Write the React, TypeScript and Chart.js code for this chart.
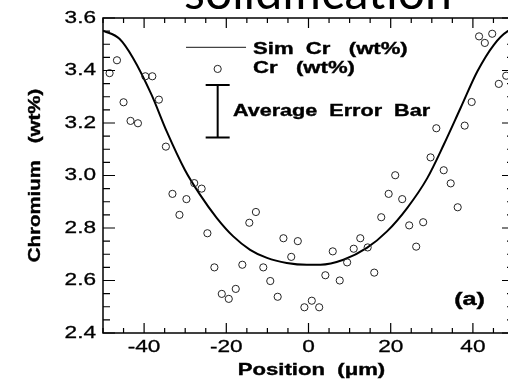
import React, { useEffect, useRef } from 'react';
import { Chart, registerables } from 'chart.js';

Chart.register(...registerables);

// ---------------- data ----------------
const crX = [-48.4, -46.6, -45.0, -43.3, -41.5, -39.7, -38.0, -36.4, -34.7, -33.1, -31.4, -29.7, -27.8, -26.0, -24.6, -22.9, -21.1, -19.4, -17.7, -16.1, -14.4, -12.8, -11.0, -9.3, -7.5, -6.1, -4.2, -2.6, -1.0, 0.8, 2.6, 4.1, 5.9, 7.6, 9.4, 11.0, 12.6, 14.4, 16.0, 17.7, 19.5, 21.1, 22.8, 24.5, 26.2, 27.9, 29.7, 31.1, 32.9, 34.6, 36.3, 38.0, 39.7, 41.5, 42.9, 44.7, 46.3, 48.1];
const crY = [3.390, 3.439, 3.279, 3.208, 3.199, 3.378, 3.378, 3.289, 3.110, 2.930, 2.850, 2.910, 2.971, 2.950, 2.780, 2.650, 2.549, 2.530, 2.568, 2.660, 2.820, 2.861, 2.650, 2.598, 2.538, 2.761, 2.690, 2.750, 2.498, 2.523, 2.498, 2.620, 2.711, 2.600, 2.669, 2.721, 2.761, 2.726, 2.630, 2.841, 2.930, 3.001, 2.910, 2.810, 2.729, 2.822, 3.069, 3.180, 3.020, 2.970, 2.879, 3.190, 3.280, 3.530, 3.505, 3.540, 3.349, 3.380];

const simX = [-50, -46, -42.7, -38.2, -34.5, -30.1, -26.4, -22.3, -18.3, -14.2, -10.1, -5.3, -0.4, 2.9, 8.5, 14.2, 19.1, 24.0, 28.9, 32.9, 37.0, 41.1, 45.1, 48.4, 50];
const simY = [3.552, 3.521, 3.448, 3.308, 3.168, 3.022, 2.927, 2.838, 2.768, 2.717, 2.686, 2.667, 2.660, 2.660, 2.679, 2.724, 2.787, 2.876, 2.990, 3.117, 3.257, 3.397, 3.498, 3.549, 3.556];

const xTickValues = [-40, -20, 0, 20, 40];
const xTickLabels = ['-40', '-20', '0', '20', '40'];
const yTickValues = [2.4, 2.6, 2.8, 3.0, 3.2, 3.4, 3.6];
const yTickLabels = ['2.4', '2.6', '2.8', '3.0', '3.2', '3.4', '3.6'];

const titleText = 'solidification';
const xTitle = 'Position  (\u03bcm)';
const yTitle = 'Chromium   (wt%)';
const legendSimLabel = 'Sim  Cr   (wt%)';
const legendCrLabel = 'Cr   (wt%)';
const errorBarLabel = 'Average  Error  Bar';
const panelLabel = '(a)';

// error bar (data units)
const errorBarX = -22.1;
const errorBarLow = 3.145;
const errorBarHigh = 3.345;

// ---------------- layout ----------------
const W = 540;
const H = 417;
const OFFSET_Y = 30;
const X_MIN = -50, X_MAX = 50, Y_MIN = 2.4, Y_MAX = 3.6;

const SANS = '"Liberation Sans", Arial, Helvetica, sans-serif';

function stretchedText(
  ctx: CanvasRenderingContext2D,
  text: string,
  x: number,
  y: number,
  font: string,
  sx: number,
  align: CanvasTextAlign,
  rotate = 0,
  thicken = 0
) {
  ctx.save();
  ctx.translate(x, y);
  if (rotate) ctx.rotate(rotate);
  ctx.scale(sx, 1);
  ctx.font = font;
  ctx.fillStyle = '#000';
  ctx.textAlign = align;
  ctx.textBaseline = 'middle';
  ctx.fillText(text, 0, 0);
  if (thicken > 0) {
    ctx.strokeStyle = '#000';
    ctx.lineWidth = thicken;
    ctx.strokeText(text, 0, 0);
  }
  ctx.restore();
}

const decor = {
  id: 'decor',
  afterDraw(chart: any) {
    const ctx: CanvasRenderingContext2D = chart.ctx;
    const xs = chart.scales.x;
    const ys = chart.scales.y;
    const a = chart.chartArea;
    const px = (v: number) => xs.getPixelForValue(v);
    const py = (v: number) => ys.getPixelForValue(v);

    ctx.save();
    // frame
    ctx.strokeStyle = '#000';
    ctx.lineWidth = 1.5;
    ctx.strokeRect(a.left, a.top, a.right - a.left, a.bottom - a.top);

    // x ticks (inward, top and bottom)
    ctx.lineWidth = 1.2;
    for (let v = X_MIN; v <= X_MAX + 1e-9; v += 5) {
      const major = Math.abs(v % 20) < 1e-6;
      const len = major ? 10 : 5;
      const x = px(v);
      ctx.beginPath();
      ctx.moveTo(x, a.bottom);
      ctx.lineTo(x, a.bottom - len);
      ctx.moveTo(x, a.top);
      ctx.lineTo(x, a.top + len);
      ctx.stroke();
    }
    // y ticks (inward, left and right)
    for (let i = 0; i <= Math.round((Y_MAX - Y_MIN) / 0.05); i++) {
      const v = Y_MIN + i * 0.05;
      const major = i % 4 === 0;
      const len = major ? 12 : 7;
      const y = py(v);
      ctx.beginPath();
      ctx.moveTo(a.left, y);
      ctx.lineTo(a.left + len, y);
      ctx.moveTo(a.right, y);
      ctx.lineTo(a.right - len, y);
      ctx.stroke();
    }

    // tick labels
    const tickFont = `17px ${SANS}`;
    xTickValues.forEach((v, i) => {
      stretchedText(ctx, xTickLabels[i], px(v), a.bottom + 14, tickFont, 1.33, 'center', 0, 0.3);
    });
    yTickValues.forEach((v, i) => {
      stretchedText(ctx, yTickLabels[i], a.left - 7, py(v), tickFont, 1.33, 'right', 0, 0.3);
    });

    // axis titles
    const boldFont = `bold 17px ${SANS}`;
    stretchedText(ctx, xTitle, (a.left + a.right) / 2 + 3, a.bottom + 37, boldFont, 1.3, 'center', 0, 0.4);
    stretchedText(ctx, yTitle, 35, (a.top + a.bottom) / 2, boldFont, 1.2, 'center', -Math.PI / 2, 0.4);

    // legend: sim line
    ctx.strokeStyle = '#444';
    ctx.lineWidth = 1.4;
    ctx.beginPath();
    ctx.moveTo(px(-29.8), py(3.488));
    ctx.lineTo(px(-15.2), py(3.488));
    ctx.stroke();
    // legend: marker
    ctx.strokeStyle = '#222';
    ctx.lineWidth = 1;
    ctx.beginPath();
    ctx.arc(px(-22.1), py(3.406), 3.6, 0, Math.PI * 2);
    ctx.stroke();
    // error bar
    ctx.strokeStyle = '#000';
    ctx.lineWidth = 2;
    const ex = px(errorBarX);
    const eTop = py(errorBarHigh);
    const eBot = py(errorBarLow);
    ctx.beginPath();
    ctx.moveTo(ex, eTop);
    ctx.lineTo(ex, eBot);
    ctx.moveTo(ex - 12, eTop);
    ctx.lineTo(ex + 12, eTop);
    ctx.moveTo(ex - 12, eBot);
    ctx.lineTo(ex + 12, eBot);
    ctx.stroke();

    stretchedText(ctx, legendSimLabel, px(-13.5), py(3.482), boldFont, 1.3, 'left', 0, 0.4);
    stretchedText(ctx, legendCrLabel, px(-13.5), py(3.410), boldFont, 1.3, 'left', 0, 0.4);
    stretchedText(ctx, errorBarLabel, px(-18.4), py(3.246), boldFont, 1.27, 'left', 0, 0.4);
    stretchedText(ctx, panelLabel, px(39.2), py(2.526), `bold 18px ${SANS}`, 1.4, 'center', 0, 0.4);

    // cropped title
    ctx.font = `40px Lato, "Open Sans", sans-serif`;
    const w40 = ctx.measureText(titleText).width;
    const size = (40 * 268) / w40;
    ctx.font = `${size}px Lato, "Open Sans", sans-serif`;
    ctx.fillStyle = '#000';
    ctx.textAlign = 'center';
    ctx.textBaseline = 'alphabetic';
    ctx.fillText(titleText, 318, a.top - 9);

    ctx.restore();
  },
};

export default function App() {
  const ref = useRef<HTMLCanvasElement>(null);
  useEffect(() => {
    const canvas = ref.current!;
    const chart = new Chart(canvas, {
      type: 'scatter',
      data: {
        datasets: [
          {
            label: 'Cr (wt%)',
            data: crX.map((x, i) => ({ x, y: crY[i] })),
            pointRadius: 3.6,
            pointBorderWidth: 1,
            pointBorderColor: '#222',
            pointBackgroundColor: 'rgba(0,0,0,0)',
            showLine: false,
          },
          {
            label: 'Sim Cr (wt%)',
            data: simX.map((x, i) => ({ x, y: simY[i] })),
            showLine: true,
            borderColor: '#000',
            borderWidth: 2,
            pointRadius: 0,
            cubicInterpolationMode: 'monotone',
          },
        ],
      },
      options: {
        responsive: false,
        animation: false,
        devicePixelRatio: 1,
        events: [],
        layout: { padding: { left: 103, right: 26, top: 48, bottom: 54 } },
        scales: {
          x: { type: 'linear', min: X_MIN, max: X_MAX, display: false },
          y: { type: 'linear', min: Y_MIN, max: Y_MAX, display: false },
        },
        plugins: {
          legend: { display: false },
          tooltip: { enabled: false },
          title: { display: false },
        },
      } as any,
      plugins: [decor],
    });
    return () => chart.destroy();
  }, []);

  return (
    <div style={{ position: 'fixed', left: 0, top: 0, width: 508, height: 387, overflow: 'hidden', background: '#fff' }}>
      <canvas ref={ref} width={W} height={H} style={{ position: 'absolute', left: 0, top: -OFFSET_Y, width: W, height: H }} />
    </div>
  );
}
